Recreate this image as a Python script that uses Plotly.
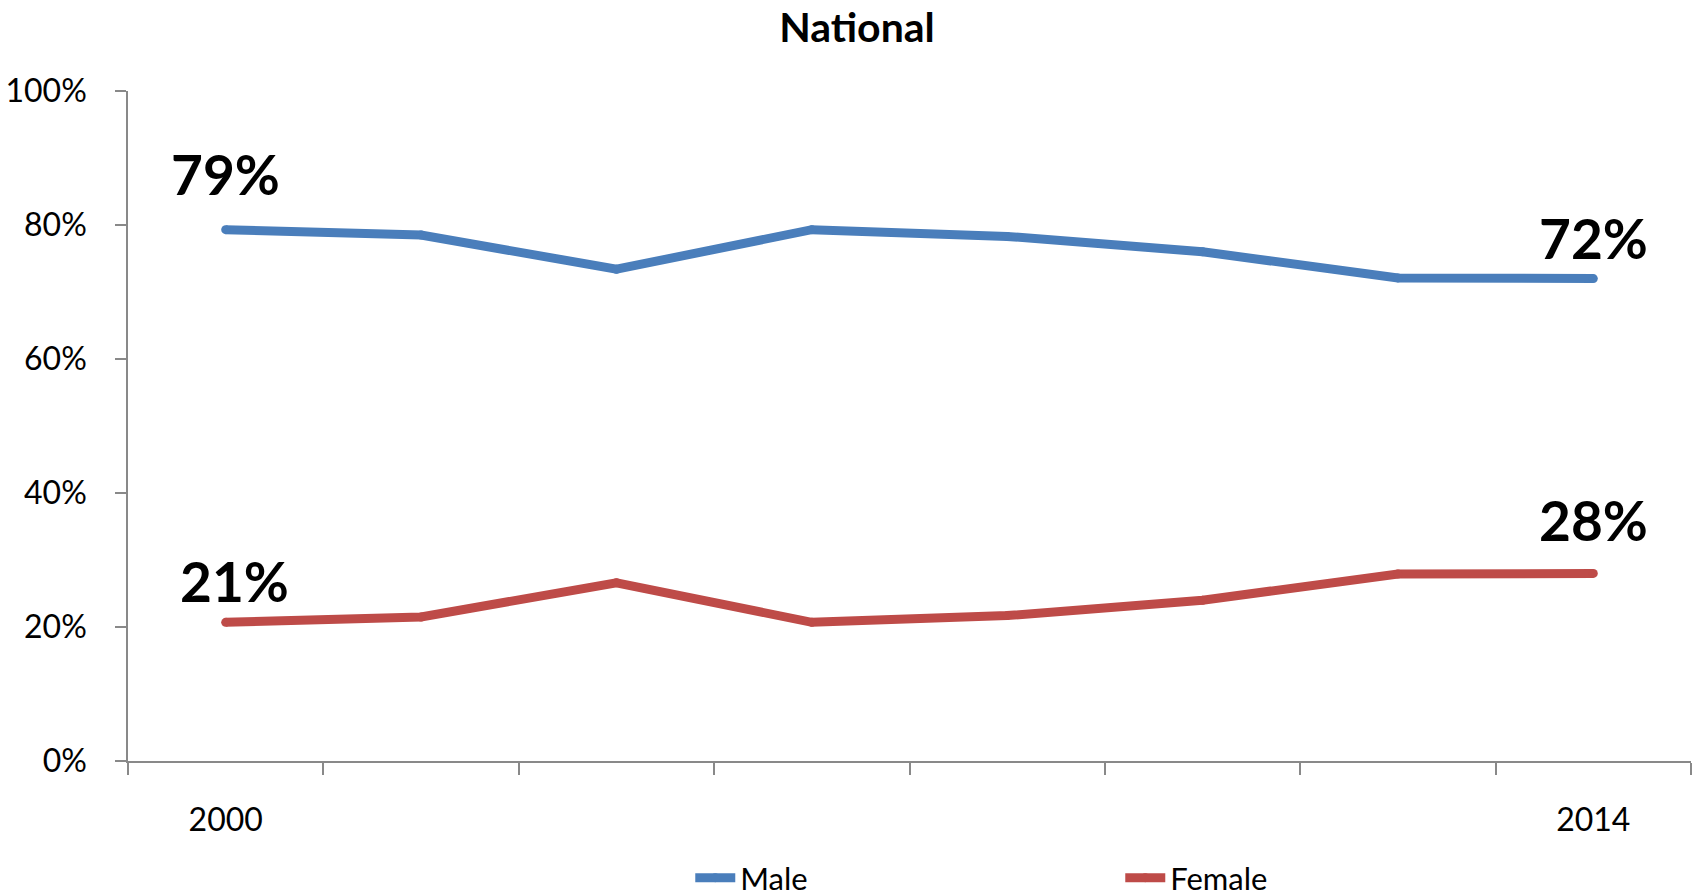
import plotly.graph_objects as go

# Share of the national total by sex, 2000-2014
years = [2000, 2002, 2004, 2006, 2008, 2010, 2012, 2014]
male = [79.3, 78.5, 73.4, 79.3, 78.3, 76.0, 72.1, 72.0]
female = [20.7, 21.5, 26.6, 20.7, 21.7, 24.0, 27.9, 28.0]
y_ticks = [0, 20, 40, 60, 80, 100]
y_tick_labels = [f"{v}%" for v in y_ticks]
x_tick_labels = ["2000", "2014"]

FONT = "Lato"
BLUE = "#4A7EBB"
RED = "#BE4B48"
AXIS = "#898989"

fig = go.Figure()
for name, vals, color in [("Male", male, BLUE), ("Female", female, RED)]:
    fig.add_trace(go.Scatter(
        x=years, y=vals, name=name, mode="lines+markers",
        line=dict(color=color, width=9),
        marker=dict(color=color, size=9),
    ))

# End-point value labels
label_specs = [
    (male, 0, 56, 0), (male, -1, 41, 0),
    (female, 0, 41, 9), (female, -1, 53, 0),
]
for vals, idx, yshift, xshift in label_specs:
    fig.add_annotation(
        x=years[idx], y=vals[idx], text=f"{round(vals[idx])}%",
        showarrow=False, yshift=yshift, xshift=xshift,
        font=dict(family=FONT, size=55, color="black", weight="bold"),
    )

fig.update_layout(
    width=1696, height=896,
    paper_bgcolor="white", plot_bgcolor="white",
    margin=dict(l=128, r=5, t=91, b=135),
    title=dict(text="<b>National</b>", x=0.5053, xref="container", xanchor="center",
               y=1 - 28 / 896, yref="container", yanchor="middle",
               font=dict(family=FONT, size=41, color="black")),
    font=dict(family=FONT, color="black"),
    showlegend=True,
    legend=dict(orientation="h", xref="container", yref="container",
                x=0.407, y=1 - 878 / 896, xanchor="left", yanchor="middle",
                font=dict(family=FONT, size=31, color="black"),
                entrywidth=375, itemwidth=40, tracegroupgap=0),
)

fig.update_xaxes(
    range=[years[0] - 1, years[-1] + 1],
    tickmode="array", tickvals=[years[0], years[-1]], ticktext=x_tick_labels,
    ticks="", ticklabelstandoff=30,
    tickfont=dict(family=FONT, size=32, color="black"),
    showline=True, linecolor=AXIS, linewidth=1.5,
    showgrid=False, zeroline=False,
    minor=dict(tick0=years[0] - 1, dtick=2, ticks="outside", ticklen=12,
               tickcolor=AXIS, tickwidth=1.5, showgrid=False),
)
fig.update_yaxes(
    range=[0, 100], tickmode="array", tickvals=y_ticks, ticktext=y_tick_labels,
    ticks="outside", ticklen=11, tickcolor=AXIS, tickwidth=1.5,
    ticklabelstandoff=22,
    tickfont=dict(family=FONT, size=32, color="black"),
    showline=True, linecolor=AXIS, linewidth=1.5,
    showgrid=False, zeroline=False,
)

fig.write_html("out.html")
